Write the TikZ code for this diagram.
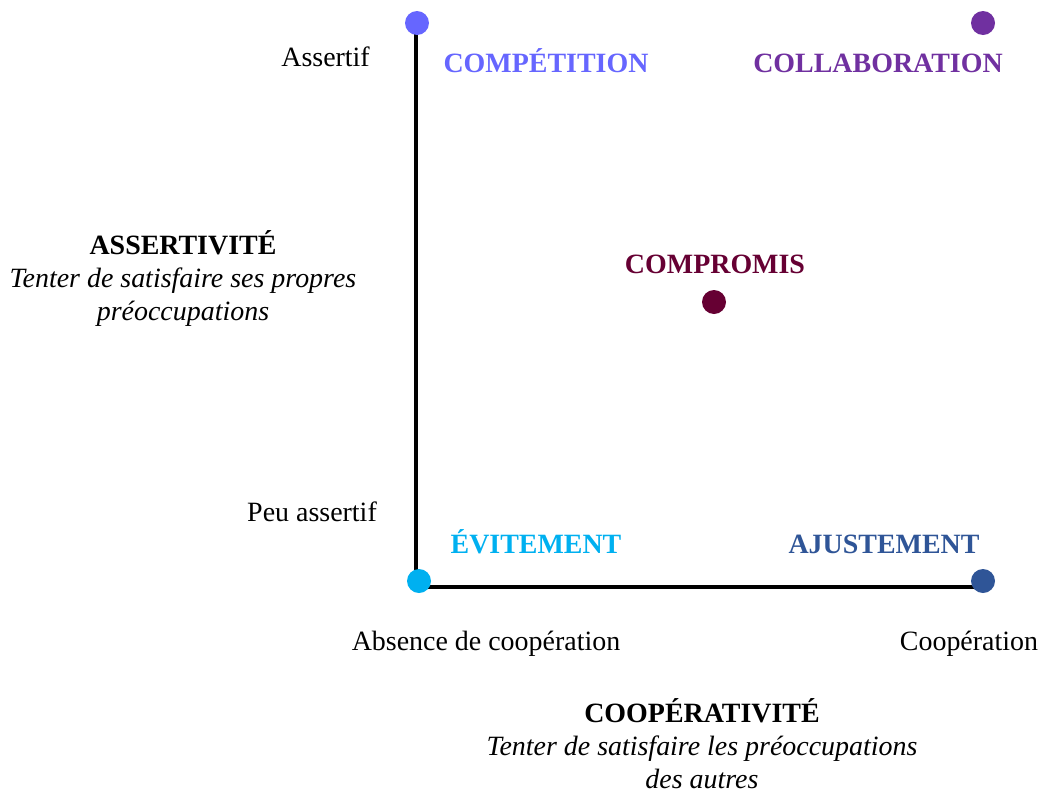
\documentclass[tikz,border=0pt]{standalone}
\usepackage{fontspec}
\setmainfont{Liberation Serif}
\usetikzlibrary{positioning}
\definecolor{compet}{HTML}{6666FF}
\definecolor{collab}{HTML}{7030A0}
\definecolor{compro}{HTML}{660033}
\definecolor{evite}{HTML}{00B0F0}
\definecolor{ajust}{HTML}{2F5597}
\newcommand{\txt}{\fontsize{15.9}{18.7}\selectfont}

\begin{document}
\begin{tikzpicture}[x=0.02cm,y=-0.02cm]
      \tikzstyle{dot}=[circle,inner sep=0pt,minimum size=0.48cm]
      \tikzstyle{style}=[font=\txt\bfseries,anchor=base]
      \tikzstyle{lbl}=[font=\txt,anchor=base]
      \tikzstyle{axe}=[font=\txt,align=center,anchor=base]
      \useasboundingbox (0,0) rectangle (1042,792);

      \coordinate (top)    at (416,22);
      \coordinate (origin) at (416,587);
      \coordinate (right)  at (983,587);
      \draw[line width=2.3pt] (top) -- (origin) -- (right);

      \node[dot,fill=compet] (d1) at (417,23)  {};
      \node[dot,fill=collab] (d2) at (983,23)  {};
      \node[dot,fill=compro] (d3) at (714,302) {};
      \node[dot,fill=evite]  (d4) at (419,581) {};
      \node[dot,fill=ajust]  (d5) at (983,581) {};

      \node[style,text=compet] (s1) at (546,72)  {COMPÉTITION};
      \node[style,text=collab] (s2) at (878,72)  {COLLABORATION};
      \node[style,text=compro] (s3) at (715,273) {COMPROMIS};
      \node[style,text=evite]  (s4) at (536,553) {ÉVITEMENT};
      \node[style,text=ajust]  (s5) at (884,553) {AJUSTEMENT};

      \node[lbl,anchor=base east] (l1) at (376,66)  {Assertif};
      \node[lbl,anchor=base east] (l2) at (383,521) {Peu assertif};
      \node[lbl] (l3) at (486,650) {Absence de coopération};
      \node[lbl] (l4) at (969,650) {Coopération};

      % base anchor sits on the last line
      \node[axe] (a1) at (183,320) {\textbf{ASSERTIVITÉ}\\\textit{Tenter de satisfaire ses propres}\\\textit{préoccupations}};
      \node[axe] (a2) at (702,788) {\textbf{COOPÉRATIVITÉ}\\\textit{Tenter de satisfaire les préoccupations}\\\textit{des autres}};
\end{tikzpicture}
\end{document}
